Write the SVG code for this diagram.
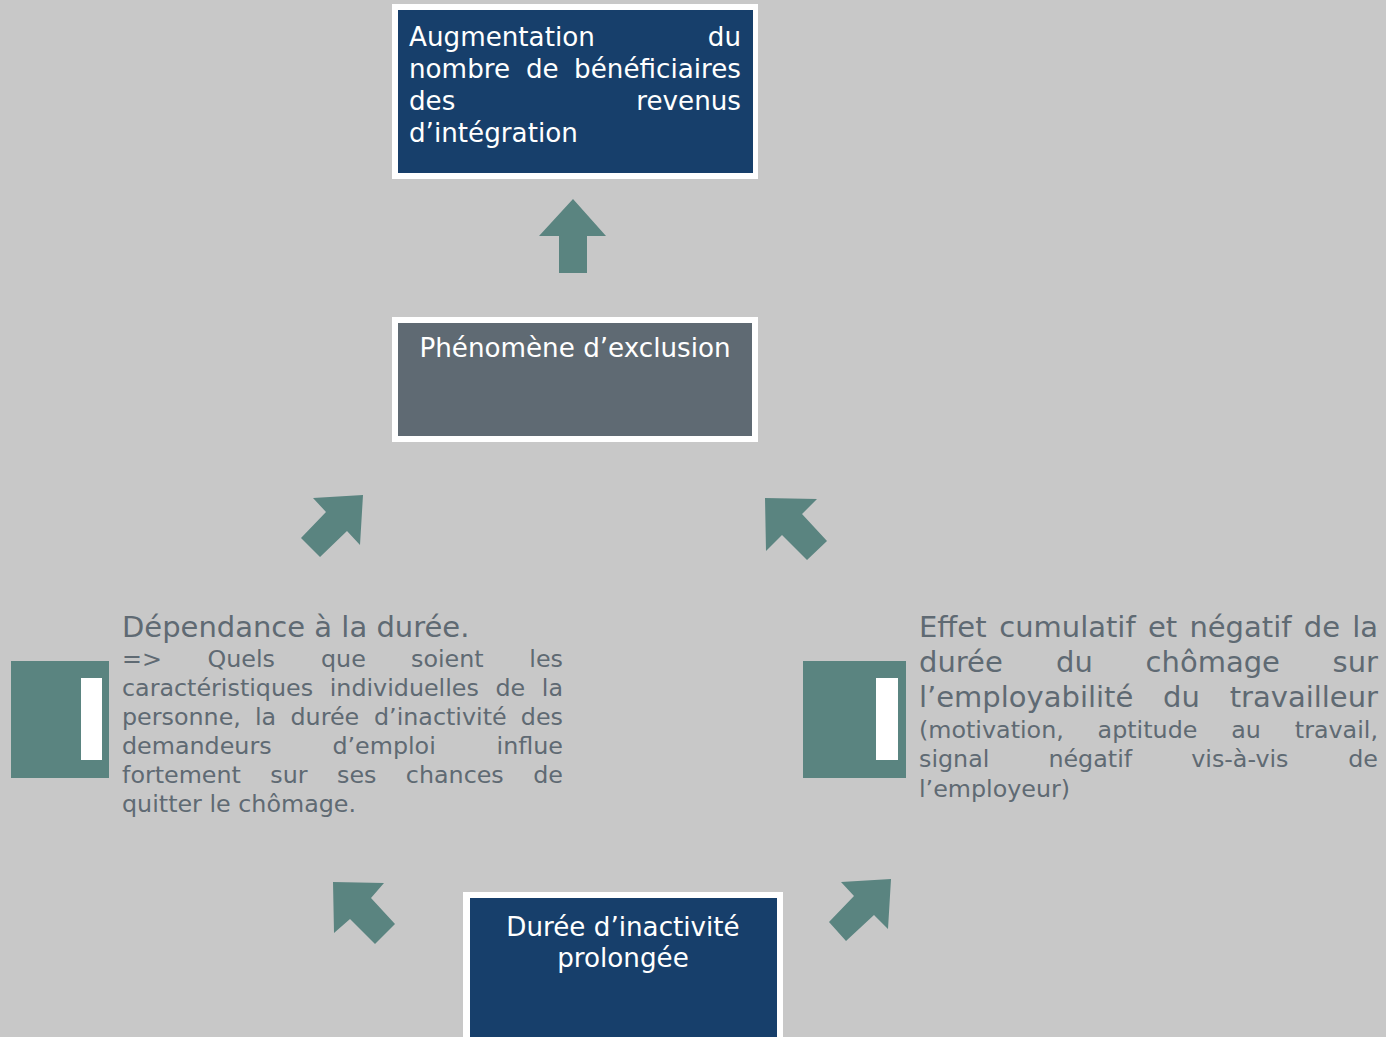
<svg xmlns="http://www.w3.org/2000/svg" width="1386" height="1037" viewBox="0 0 1386 1037">
  <style>
    text { font-family: "DejaVu Sans", Verdana, sans-serif; }
    .frame { fill: #ffffff; }
    .navy { fill: #173f6b; }
    .slate { fill: #5f6a73; }
    .light { fill: #ffffff; font-size: 26.2px; }
    .head { fill: #5f6a73; font-size: 29px; }
    .body { fill: #5f6a73; font-size: 23.8px; }
    .arrow { fill: #5a8480; }
    .tab { fill: #5a8480; }
    .tab-bar { fill: #ffffff; }
    .end { text-anchor: end; }
    .mid { text-anchor: middle; }
  </style>

  <rect x="0" y="0" width="1386" height="1037" fill="#c8c8c8"/>

  <!-- block arrows between the stages -->
  <g id="connectors">
    <polygon class="arrow" points="573,199 606,236 587,236 587,273 559,273 559,236 539,236"/>
    <polygon class="arrow" points="363,495 360,545 347,531 320,557 301,538 326,512 313,498"/>
    <polygon class="arrow" points="765,498 817,499 802,514 827,541 807,560 782,535 766,551"/>
    <polygon class="arrow" points="333,882 384,883 371,898 395,924 375,944 350,919 334,933"/>
    <polygon class="arrow" points="891,879 888,929 874,915 846,941 829,922 854,896 841,882"/>
  </g>

  <!-- top: outcome (justified lines, words placed one by one) -->
  <g id="node-augmentation">
    <rect class="frame" x="392" y="4" width="366" height="175"/>
    <rect class="navy" x="398" y="10" width="355" height="163"/>
    <text class="light" x="409" y="46">Augmentation</text>
    <text class="light end" x="741" y="46">du</text>
    <text class="light" x="409" y="78">nombre</text>
    <text class="light" x="526" y="78">de</text>
    <text class="light end" x="741" y="78">bénéficiaires</text>
    <text class="light" x="409" y="110">des</text>
    <text class="light end" x="741" y="110">revenus</text>
    <text class="light" x="409" y="142">d’intégration</text>
  </g>

  <!-- middle: exclusion -->
  <g id="node-exclusion">
    <rect class="frame" x="392" y="317" width="366" height="125"/>
    <rect class="slate" x="398" y="323" width="354" height="113"/>
    <text class="light mid" x="575" y="357">Phénomène d’exclusion</text>
  </g>

  <!-- left: duration dependence -->
  <g id="node-dependance">
    <rect class="tab" x="11" y="661" width="98" height="117"/>
    <rect class="tab-bar" x="81" y="678" width="21" height="82"/>
    <text class="head" x="122" y="637">Dépendance à la durée.</text>
    <text class="body" x="122" y="667">=&gt;</text>
    <text class="body" x="207.5" y="667">Quels</text>
    <text class="body" x="321" y="667">que</text>
    <text class="body" x="411" y="667">soient</text>
    <text class="body end" x="563" y="667">les</text>
    <text class="body" x="122" y="696">caractéristiques</text>
    <text class="body" x="329.7" y="696">individuelles</text>
    <text class="body" x="495.5" y="696">de</text>
    <text class="body end" x="563" y="696">la</text>
    <text class="body" x="122" y="725">personne,</text>
    <text class="body" x="255" y="725">la</text>
    <text class="body" x="290.5" y="725">durée</text>
    <text class="body" x="374" y="725">d’inactivité</text>
    <text class="body end" x="563" y="725">des</text>
    <text class="body" x="122" y="754">demandeurs</text>
    <text class="body" x="332.4" y="754">d’emploi</text>
    <text class="body end" x="563" y="754">influe</text>
    <text class="body" x="122" y="783">fortement</text>
    <text class="body" x="270.3" y="783">sur</text>
    <text class="body" x="337" y="783">ses</text>
    <text class="body" x="405.8" y="783">chances</text>
    <text class="body end" x="563" y="783">de</text>
    <text class="body" x="122" y="812">quitter le chômage.</text>
  </g>

  <!-- right: cumulative effect -->
  <g id="node-effet">
    <rect class="tab" x="803" y="661" width="103" height="117"/>
    <rect class="tab-bar" x="876" y="678" width="22" height="82"/>
    <text class="head" x="919" y="637">Effet</text>
    <text class="head" x="999.2" y="637">cumulatif</text>
    <text class="head" x="1147.9" y="637">et</text>
    <text class="head" x="1189.4" y="637">négatif</text>
    <text class="head" x="1303.8" y="637">de</text>
    <text class="head end" x="1378" y="637">la</text>
    <text class="head" x="919" y="672">durée</text>
    <text class="head" x="1056.1" y="672">du</text>
    <text class="head" x="1145.6" y="672">chômage</text>
    <text class="head end" x="1378" y="672">sur</text>
    <text class="head" x="919" y="707">l’employabilité</text>
    <text class="head" x="1163.1" y="707">du</text>
    <text class="head end" x="1378" y="707">travailleur</text>
    <text class="body" x="919" y="738">(motivation,</text>
    <text class="body" x="1097.6" y="738">aptitude</text>
    <text class="body" x="1231.2" y="738">au</text>
    <text class="body end" x="1378" y="738">travail,</text>
    <text class="body" x="919" y="767">signal</text>
    <text class="body" x="1048.4" y="767">négatif</text>
    <text class="body" x="1191.2" y="767">vis-à-vis</text>
    <text class="body end" x="1378" y="767">de</text>
    <text class="body" x="919" y="797">l’employeur)</text>
  </g>

  <!-- bottom: prolonged inactivity -->
  <g id="node-duree">
    <rect class="frame" x="463" y="892" width="320" height="150"/>
    <rect class="navy" x="470" y="898" width="307" height="144"/>
    <text class="light mid" x="623" y="936">Durée d’inactivité</text>
    <text class="light mid" x="623" y="967">prolongée</text>
  </g>
</svg>
